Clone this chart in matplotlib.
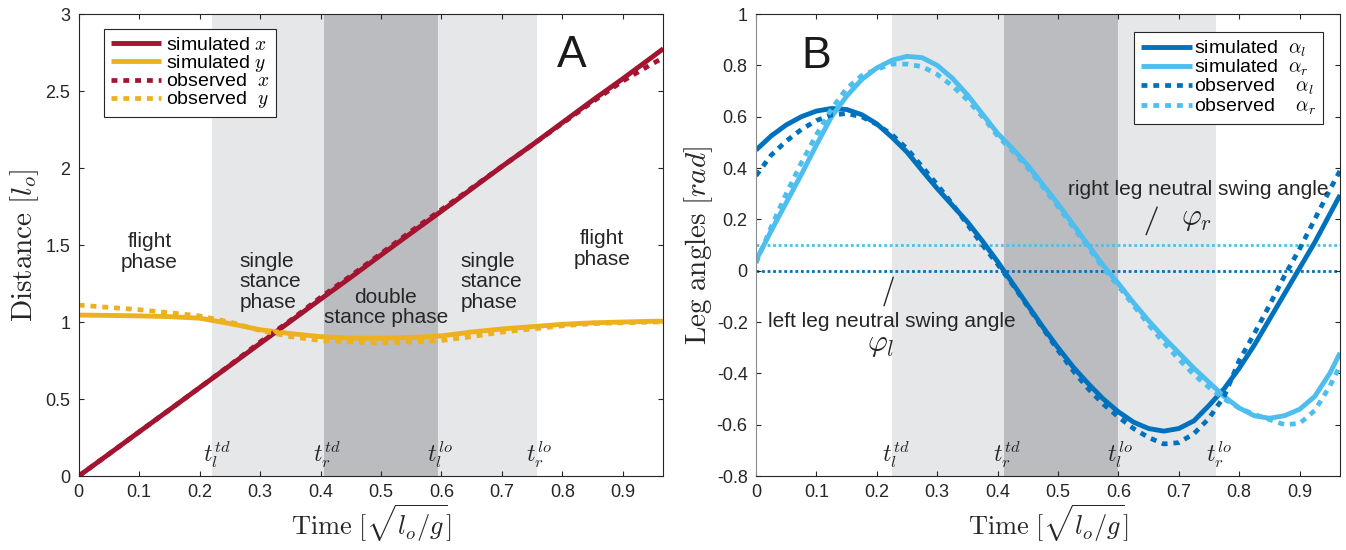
import matplotlib
matplotlib.use("Agg")
import matplotlib.pyplot as plt

plt.rcParams['font.family'] = ['Liberation Sans', 'DejaVu Sans']
plt.rcParams['mathtext.fontset'] = 'cm'
plt.rcParams['axes.unicode_minus'] = False

# colours (MATLAB defaults)
RED = '#A2142F'
YEL = '#EDB120'
DBLUE = '#0072BD'
LBLUE = '#4DBEEE'
LIGHT = '#E6E7E9'
DARK = '#BBBCC0'
INK = '#262626'

# ---------------- panel A data ----------------
t_a = [0, 0.05, 0.1, 0.15, 0.2, 0.25, 0.3, 0.35, 0.4, 0.45, 0.5,
       0.55, 0.6, 0.65, 0.7, 0.75, 0.8, 0.85, 0.9, 0.95, 0.967]
sim_x = [0, 0.143, 0.287, 0.43, 0.574, 0.717, 0.861, 1.004, 1.148, 1.29, 1.435,
         1.578, 1.72, 1.865, 2.01, 2.15, 2.295, 2.44, 2.58, 2.725, 2.775]
obs_x = [0, 0.143, 0.287, 0.43, 0.574, 0.72, 0.87, 1.01, 1.16, 1.30, 1.445,
         1.59, 1.73, 1.87, 2.01, 2.15, 2.29, 2.43, 2.565, 2.68, 2.715]
sim_y = [1.045, 1.043, 1.04, 1.035, 1.025, 0.99, 0.95, 0.925, 0.905, 0.895, 0.895,
         0.9, 0.91, 0.935, 0.955, 0.97, 0.985, 0.995, 1.0, 1.005, 1.005]
obs_y = [1.11, 1.095, 1.08, 1.06, 1.04, 1.0, 0.945, 0.905, 0.88, 0.87, 0.865,
         0.87, 0.88, 0.905, 0.935, 0.955, 0.975, 0.99, 0.995, 1.0, 1.0]
phases_a = [0.221, 0.406, 0.594, 0.758]

# ---------------- panel B data ----------------
t_b = [0, 0.025, 0.05, 0.075, 0.1, 0.125, 0.15, 0.175, 0.2, 0.225,
       0.25, 0.275, 0.3, 0.325, 0.35, 0.375, 0.4, 0.425, 0.45, 0.475,
       0.5, 0.525, 0.55, 0.575, 0.6, 0.625, 0.65, 0.675, 0.7, 0.725,
       0.75, 0.775, 0.8, 0.825, 0.85, 0.875, 0.9, 0.925, 0.95, 0.967]
sim_al = [0.47, 0.525, 0.568, 0.600, 0.622, 0.632, 0.628, 0.608, 0.572, 0.52,
          0.462, 0.39, 0.32, 0.255, 0.19, 0.115, 0.035, -0.05, -0.135, -0.22,
          -0.30, -0.375, -0.44, -0.50, -0.55, -0.59, -0.615, -0.625, -0.615, -0.585,
          -0.525, -0.46, -0.38, -0.29, -0.19, -0.09, 0.01, 0.11, 0.22, 0.295]
sim_ar = [0.04, 0.155, 0.265, 0.375, 0.49, 0.60, 0.68, 0.745, 0.79, 0.82,
          0.835, 0.83, 0.80, 0.75, 0.685, 0.61, 0.535, 0.475, 0.41, 0.335,
          0.26, 0.18, 0.10, 0.02, -0.05, -0.125, -0.195, -0.26, -0.32, -0.38,
          -0.435, -0.49, -0.535, -0.565, -0.575, -0.565, -0.54, -0.49, -0.40, -0.32]
obs_al = [0.37, 0.45, 0.505, 0.55, 0.585, 0.607, 0.612, 0.60, 0.57, 0.53,
          0.475, 0.405, 0.335, 0.26, 0.18, 0.10, 0.025, -0.055, -0.14, -0.225,
          -0.31, -0.39, -0.46, -0.52, -0.57, -0.615, -0.65, -0.675, -0.67, -0.635,
          -0.575, -0.49, -0.35, -0.245, -0.135, -0.02, 0.085, 0.20, 0.315, 0.39]
obs_ar = [0.03, 0.17, 0.30, 0.42, 0.53, 0.63, 0.71, 0.76, 0.785, 0.805,
          0.805, 0.795, 0.765, 0.72, 0.665, 0.60, 0.525, 0.465, 0.40, 0.325,
          0.25, 0.17, 0.09, 0.01, -0.06, -0.135, -0.21, -0.28, -0.345, -0.405,
          -0.455, -0.50, -0.535, -0.56, -0.58, -0.60, -0.595, -0.545, -0.45, -0.37]
phases_b = [0.225, 0.41, 0.599, 0.762]
phi_l = 0.0
phi_r = 0.1

event_labels = [r'$t_l^{td}$', r'$t_r^{td}$', r'$t_l^{lo}$', r'$t_r^{lo}$']
xticks = [0, 0.1, 0.2, 0.3, 0.4, 0.5, 0.6, 0.7, 0.8, 0.9]
xmax = 0.967

SOLID = dict(lw=3.5, solid_capstyle='butt')
DOT = dict(lw=3.4, ls=(0, (1.25, 1.25)), dash_capstyle='butt')


def shade(ax, p):
    ax.axvspan(p[0], p[1], color=LIGHT, lw=0, zorder=0)
    ax.axvspan(p[1], p[2], color=DARK, lw=0, zorder=0)
    ax.axvspan(p[2], p[3], color=LIGHT, lw=0, zorder=0)


def style(ax):
    ax.set_xlim(0, xmax)
    ax.set_xticks(xticks)
    ax.set_xticklabels([('%g' % v) for v in xticks])
    ax.tick_params(direction='in', length=3.6, width=0.8, top=True, right=True,
                   labelsize=13, colors=INK, pad=6)
    for s in ax.spines.values():
        s.set_color(INK)
        s.set_linewidth(0.8)
    ax.set_xlabel(r'$\mathrm{Time}\ [\sqrt{l_o/g}]$', fontsize=19, color=INK, labelpad=1)


fig = plt.figure(figsize=(13.46, 5.5), dpi=100)
axA = fig.add_axes([0.0585, 0.1345, 0.4343, 0.84])
axB = fig.add_axes([0.5617, 0.1345, 0.4339, 0.84])

# ---------------- panel A ----------------
shade(axA, phases_a)
axA.plot(t_a, sim_x, color=RED, label=r'simulated $x$', **SOLID)
axA.plot(t_a, sim_y, color=YEL, label=r'simulated $y$', **SOLID)
axA.plot(t_a, obs_x, color=RED, label=r'observed  $x$', **DOT)
axA.plot(t_a, obs_y, color=YEL, label=r'observed  $y$', **DOT)
style(axA)
axA.set_ylim(0, 3)
axA.set_yticks([0, 0.5, 1, 1.5, 2, 2.5, 3])
axA.set_yticklabels(['0', '0.5', '1', '1.5', '2', '2.5', '3'])
axA.set_ylabel(r'$\mathrm{Distance}\ [l_o]$', fontsize=21, color=INK, labelpad=3)
legA = axA.legend(loc='upper left', bbox_to_anchor=(0.043, 0.967), fontsize=14,
                  handlelength=2.6, handletextpad=0.25, labelspacing=-0.05,
                  borderpad=0.35, borderaxespad=0, fancybox=False, framealpha=1)
legA.get_frame().set_edgecolor(INK)
legA.get_frame().set_linewidth(0.8)
axA.text(0.816, 2.73, 'A', fontsize=32, color='#1a1a1a', ha='center', va='center')
axA.text(0.117, 1.455, 'flight\nphase', fontsize=15, color=INK, ha='center', va='center', linespacing=1.1)
axA.text(0.266, 1.26, 'single\nstance\nphase', fontsize=15, color=INK, ha='left', va='center', linespacing=1.1)
axA.text(0.508, 1.095, 'double\nstance phase', fontsize=15, color=INK, ha='center', va='center', linespacing=1.1)
axA.text(0.632, 1.26, 'single\nstance\nphase', fontsize=15, color=INK, ha='left', va='center', linespacing=1.1)
axA.text(0.866, 1.475, 'flight\nphase', fontsize=15, color=INK, ha='center', va='center', linespacing=1.1)
for x, lab in zip([0.228, 0.41, 0.598, 0.761], event_labels):
    axA.text(x, 0.14, lab, fontsize=17, color=INK, ha='center', va='center')

# ---------------- panel B ----------------
shade(axB, phases_b)
axB.axhline(phi_r, color=LBLUE, lw=2.0, ls=(0, (1, 1)), dash_capstyle='butt', zorder=1)
axB.axhline(phi_l, color=DBLUE, lw=2.0, ls=(0, (1, 1)), dash_capstyle='butt', zorder=1)
axB.plot(t_b, sim_al, color=DBLUE, label=r'simulated  $\alpha_l$', **SOLID)
axB.plot(t_b, sim_ar, color=LBLUE, label=r'simulated  $\alpha_r$', **SOLID)
axB.plot(t_b, obs_al, color=DBLUE, label=r'observed    $\alpha_l$', **DOT)
axB.plot(t_b, obs_ar, color=LBLUE, label=r'observed    $\alpha_r$', **DOT)
style(axB)
axB.spines['left'].set_color('#8c8c8c')
axB.set_ylim(-0.8, 1)
yb = [-0.8, -0.6, -0.4, -0.2, 0, 0.2, 0.4, 0.6, 0.8, 1]
axB.set_yticks(yb)
axB.set_yticklabels([('%g' % v) for v in yb])
axB.set_ylabel(r'$\mathrm{Leg\ angles}\ [rad]$', fontsize=21, color=INK, labelpad=1)
legB = axB.legend(loc='upper right', bbox_to_anchor=(0.97, 0.962), fontsize=14,
                  handlelength=2.6, handletextpad=0.1, labelspacing=-0.05,
                  borderpad=0.35, borderaxespad=0, fancybox=False, framealpha=1)
legB.get_frame().set_edgecolor(INK)
legB.get_frame().set_linewidth(0.8)
axB.text(0.1, 0.836, 'B', fontsize=32, color='#1a1a1a', ha='center', va='center')
axB.text(0.516, 0.316, 'right leg neutral swing angle', fontsize=15, color=INK, ha='left', va='center')
axB.plot([0.664, 0.646], [0.247, 0.141], color=INK, lw=1.0)
axB.text(0.73, 0.206, r'$\varphi_r$', fontsize=22, color=INK, ha='center', va='center')
axB.text(0.019, -0.197, 'left leg neutral swing angle', fontsize=15, color=INK, ha='left', va='center')
axB.plot([0.227, 0.212], [-0.026, -0.136], color=INK, lw=1.0)
axB.text(0.207, -0.286, r'$\varphi_l$', fontsize=22, color=INK, ha='center', va='center')
for x, lab in zip([0.232, 0.415, 0.603, 0.766], event_labels):
    axB.text(x, -0.718, lab, fontsize=17, color=INK, ha='center', va='center')

fig.savefig('out.png', dpi=100)
